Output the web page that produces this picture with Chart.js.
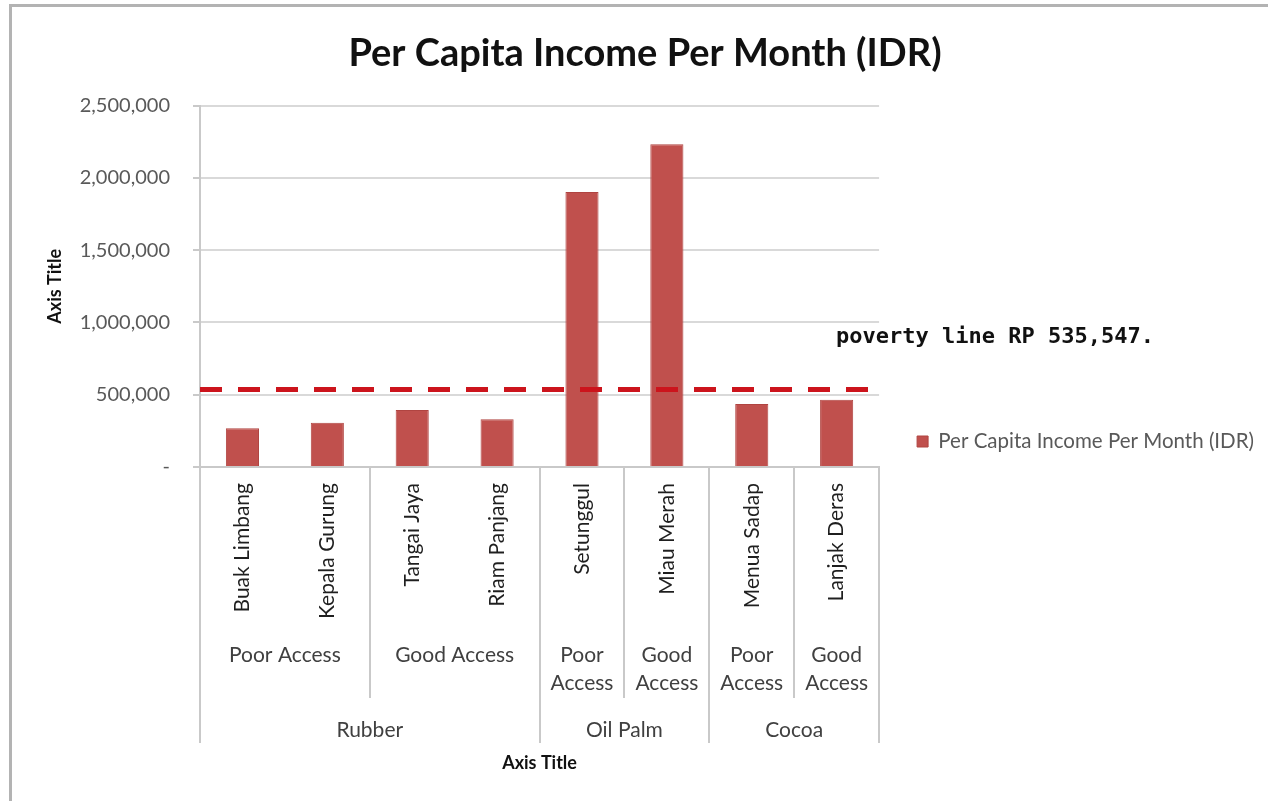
<!DOCTYPE html>
<html>
<head>
<meta charset="utf-8">
<title>Per Capita Income Per Month (IDR)</title>
<script src="https://cdn.jsdelivr.net/npm/chart.js@4/dist/chart.umd.min.js"></script>
<style>
  html, body { margin: 0; padding: 0; background: #fff; }
  #frame {
    position: absolute; left: 9px; top: 4px; width: 1259px; height: 797px;
    border-top: 3px solid #b3b3b3; border-left: 3px solid #b3b3b3;
  }
  #wrap { position: absolute; left: 0; top: 0; width: 1268px; height: 801px; }
</style>
</head>
<body>
<div id="frame"></div>
<div id="wrap"><canvas id="incomeChart" width="1268" height="801"></canvas></div>
<script>
const villages = ['Buak Limbang', 'Kepala Gurung', 'Tangai Jaya', 'Riam Panjang', 'Setunggul', 'Miau Merah', 'Menua Sadap', 'Lanjak Deras'];
const access = ['Poor Access', 'Poor Access', 'Good Access', 'Good Access', 'Poor Access', 'Good Access', 'Poor Access', 'Good Access'];
const crops = ['Rubber', 'Rubber', 'Rubber', 'Rubber', 'Oil Palm', 'Oil Palm', 'Cocoa', 'Cocoa'];
const income = [268000, 306000, 394000, 330000, 1903000, 2233000, 435000, 465000];
const povertyLine = 535547;
const yMax = 2500000;
const yStep = 500000;

const FONT = 'Lato, "Open Sans", sans-serif';

// lines between groups + the access / crop rows under the village names
const groupAxis = {
    id: 'groupAxis',
    afterDraw(chart) {
        const x = chart.scales.x;
        const ctx = chart.ctx;
        const n = villages.length;
        const top = x.top;
        const edge = i => {
            if (i === 0) return x.left;
            if (i === n) return x.right;
            return (x.getPixelForValue(i - 1) + x.getPixelForValue(i)) / 2;
        };
        ctx.save();
        ctx.strokeStyle = '#c9c9c9';
        ctx.lineWidth = 2;
        for (let i = 0; i <= n; i++) {
            let depth = 0;
            if (i === 0 || i === n || crops[i] !== crops[i - 1]) depth = 276;
            else if (access[i] !== access[i - 1]) depth = 231;
            if (!depth) continue;
            const px = Math.round(edge(i));
            ctx.beginPath();
            ctx.moveTo(px, top);
            ctx.lineTo(px, top + depth);
            ctx.stroke();
        }

        ctx.fillStyle = '#404040';
        ctx.font = '21px ' + FONT;
        ctx.textAlign = 'center';
        ctx.textBaseline = 'middle';
        // access row
        let start = 0;
        for (let i = 1; i <= n; i++) {
            if (i === n || access[i] !== access[start] || crops[i] !== crops[start]) {
                const l = edge(start), r = edge(i);
                const cx = (l + r) / 2;
                const label = access[start];
                if (ctx.measureText(label).width > r - l - 8) {
                    label.split(' ').forEach((w, k) => ctx.fillText(w, cx, top + 188 + k * 28));
                } else {
                    ctx.fillText(label, cx, top + 188);
                }
                start = i;
            }
        }
        // crop row
        start = 0;
        for (let i = 1; i <= n; i++) {
            if (i === n || crops[i] !== crops[start]) {
                ctx.fillText(crops[start], (edge(start) + edge(i)) / 2, top + 263);
                start = i;
            }
        }
        ctx.restore();
    }
};

// dashed poverty line over the bars
const povertyMark = {
    id: 'povertyMark',
    afterDatasetsDraw(chart) {
        const {ctx, chartArea} = chart;
        const py = chart.scales.y.getPixelForValue(povertyLine);
        ctx.save();
        ctx.strokeStyle = '#cc141c';
        ctx.lineWidth = 5;
        ctx.setLineDash([22, 16]);
        ctx.beginPath();
        ctx.moveTo(chartArea.left, py);
        ctx.lineTo(chartArea.right - 4, py);
        ctx.stroke();
        ctx.setLineDash([]);
        ctx.fillStyle = '#111';
        ctx.font = 'bold 22px "DejaVu Sans Mono", monospace';
        ctx.textBaseline = 'middle';
        ctx.fillText('poverty line RP ' + povertyLine.toLocaleString('en-US') + '.', chartArea.right - 43, py - 52);
        ctx.restore();
    }
};

// drop the legend down level with the lower bars
const legendNudge = {
    id: 'legendNudge',
    afterLayout(chart) {
        chart.legend.top += 40;
        chart.legend.bottom += 40;
    }
};

new Chart(document.getElementById('incomeChart'), {
    type: 'bar',
    data: {
        labels: villages,
        datasets: [{
            label: 'Per Capita Income Per Month (IDR)',
            data: income,
            backgroundColor: '#c0504d',
            borderColor: '#b04441',
            borderWidth: 1,
            barPercentage: 0.39,
            categoryPercentage: 1
        }]
    },
    options: {
        responsive: false,
        animation: false,
        layout: { padding: { left: 26, right: 4, top: 22, bottom: 20 } },
        plugins: {
            title: {
                display: true,
                text: 'Per Capita Income Per Month (IDR)',
                color: '#111',
                font: { family: FONT, size: 38, weight: 'bold' },
                padding: { top: 9, bottom: 29 }
            },
            legend: {
                position: 'right',
                maxWidth: 600,
                labels: {
                    color: '#595959',
                    font: { family: FONT, size: 20.5 },
                    boxWidth: 11,
                    boxHeight: 11,
                    padding: 38
                }
            },
            tooltip: { enabled: false }
        },
        scales: {
            x: {
                grid: { display: false },
                border: { color: '#c9c9c9', width: 2 },
                ticks: {
                    color: '#1f1f1f',
                    font: { family: FONT, size: 21 },
                    minRotation: 90,
                    maxRotation: 90,
                    autoSkip: false,
                    padding: 8
                },
                title: {
                    display: true,
                    text: 'Axis Title',
                    color: '#111',
                    font: { family: FONT, size: 18, weight: 'bold' },
                    padding: { top: 4, bottom: 7 }
                },
                afterFit(scale) { scale.height = 314; }
            },
            y: {
                min: 0,
                max: yMax,
                grid: { color: '#d9d9d9', lineWidth: 2, tickLength: 7, tickColor: '#c9c9c9' },
                border: { color: '#c9c9c9', width: 2 },
                ticks: {
                    stepSize: yStep,
                    color: '#595959',
                    font: { family: FONT, size: 20 },
                    padding: 23,
                    callback: v => v === 0 ? '-' : v.toLocaleString('en-US')
                },
                title: {
                    display: true,
                    text: 'Axis Title',
                    color: '#111',
                    font: { family: FONT, size: 18, weight: 'bold' },
                    padding: { top: 18, bottom: 0 }
                },
                afterFit(scale) { scale.width = 174; }
            }
        }
    },
    plugins: [groupAxis, povertyMark, legendNudge]
});
</script>
</body>
</html>
